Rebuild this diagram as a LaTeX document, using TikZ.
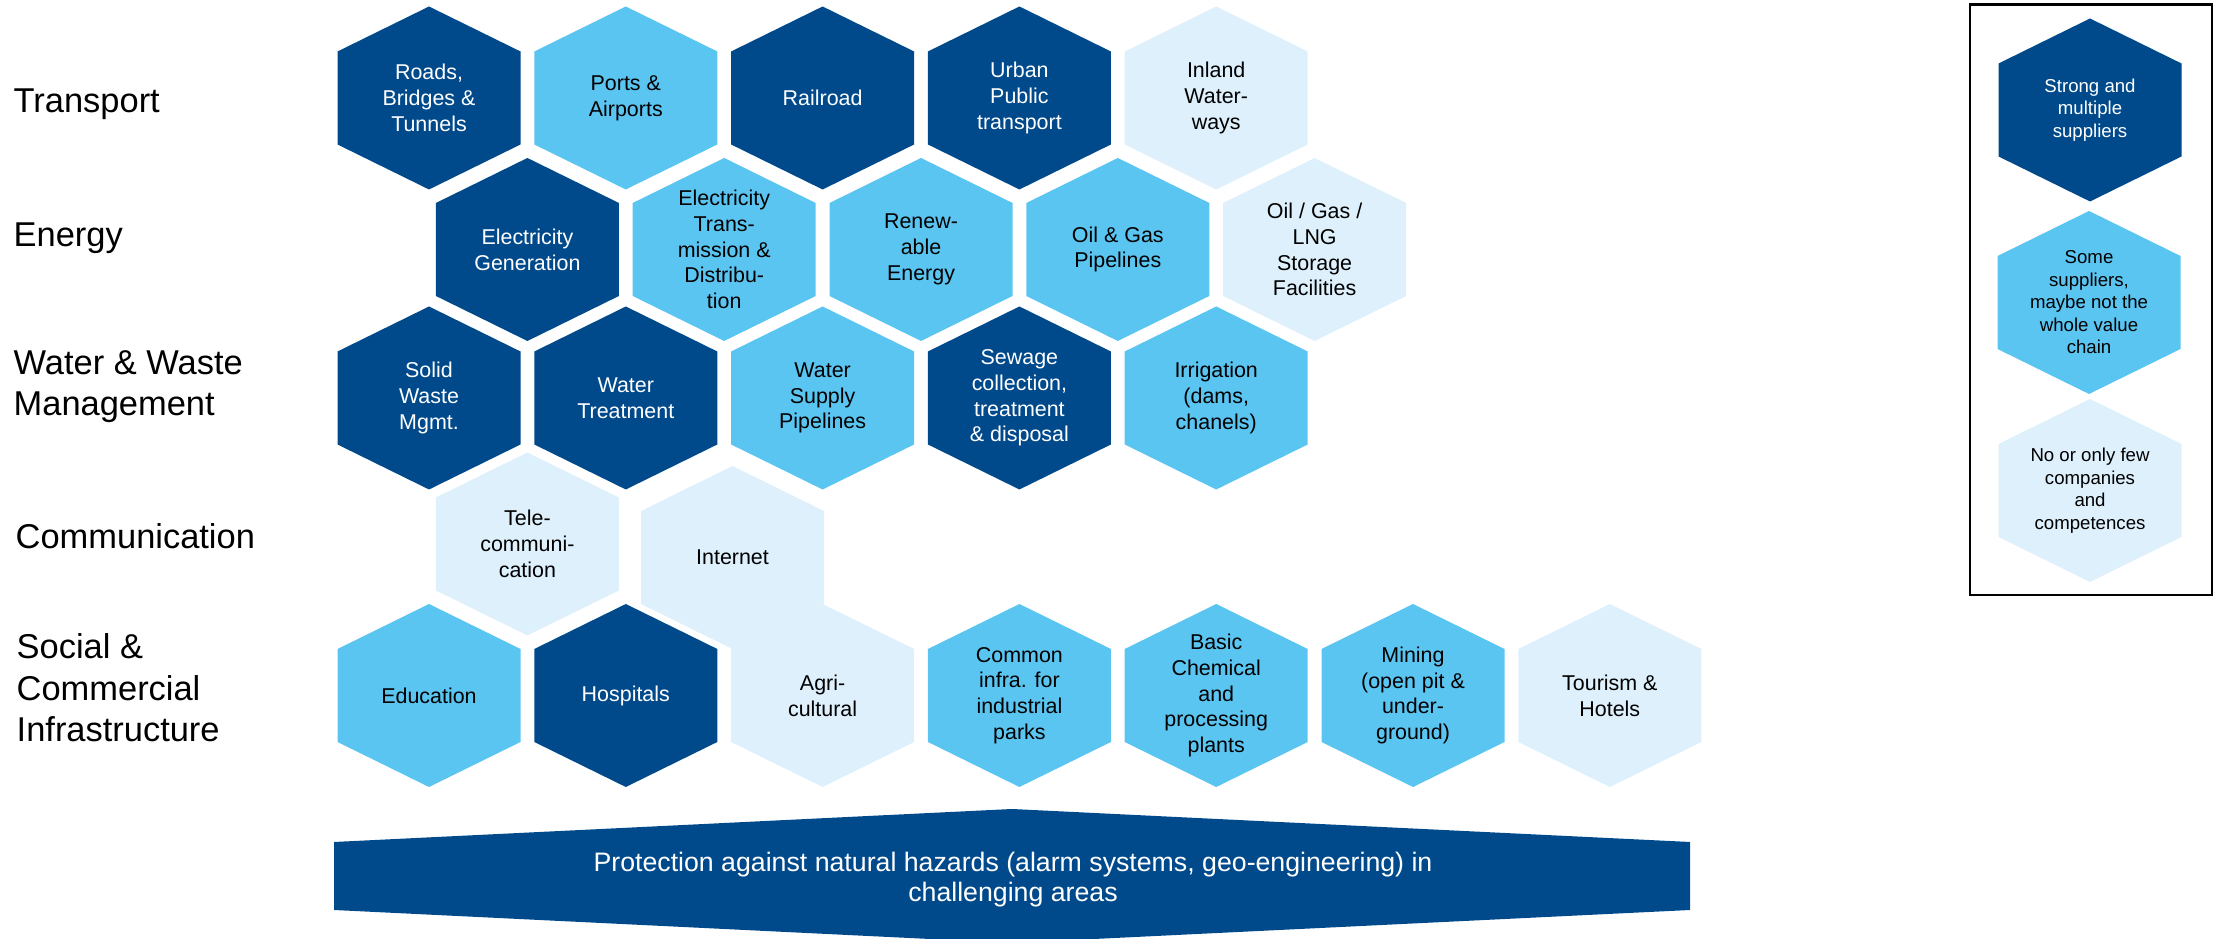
\documentclass[tikz,border=0pt]{standalone}
\usepackage{fontspec}
\setmainfont{Liberation Sans}
\definecolor{darkblue}{RGB}{0,74,140}
\definecolor{midblue}{RGB}{91,197,242}
\definecolor{paleblue}{RGB}{222,240,252}
\newcommand{\hexfont}{\fontsize{6.1}{7.35}\selectfont}
\newcommand{\rowfont}{\fontsize{9.8}{11.75}\selectfont}
\newcommand{\keyfont}{\fontsize{5.3}{6.4}\selectfont}
\newcommand{\bandfont}{\fontsize{7.6}{8.5}\selectfont}
\tikzset{
  hexcell/.style={minimum width=1.83cm, minimum height=1.83cm, inner sep=0pt, align=center, font=\hexfont,
    path picture={\fill[#1] ([yshift=-9.15mm]path picture bounding box.center) -- ++(9.15mm,4.5mm) -- ++(0,9.3mm)
      -- ++(-9.15mm,4.5mm) -- ++(-9.15mm,-4.5mm) -- ++(0,-9.3mm) -- cycle;}},
  hexstrong/.style={hexcell=darkblue, text=white},
  hexsome/.style={hexcell=midblue},
  hexfew/.style={hexcell=paleblue},
  rowlabel/.style={anchor=base west, align=left, font=\rowfont, inner sep=0pt}
}
\begin{document}
\begin{tikzpicture}
\useasboundingbox (0,0) rectangle (22.21,9.39);
% Row labels (base = last line)
\node[rowlabel] (transport) at (0.13,8.26) {Transport};
\node[rowlabel] (energy) at (0.13,6.924) {Energy};
\node[rowlabel] (water) at (0.13,5.234) {Water \& Waste\\Management};
\node[rowlabel] (comm) at (0.15,3.903) {Communication};
\node[rowlabel] (social) at (0.16,1.974) {Social \&\\Commercial\\Infrastructure};
% Transport
\foreach \n/\x/\s/\t in {roads/4.29/hexstrong/{Roads,\\Bridges \&\\Tunnels}, ports/6.258/hexsome/{Ports \&\\Airports},
  rail/8.226/hexstrong/{Railroad}, urban/10.194/hexstrong/{Urban\\Public\\transport}, inland/12.162/hexfew/{Inland\\Water-\\ways}}
  { \node[\s] (\n) at (\x,8.41) {\t}; }
% Energy
\foreach \n/\x/\s/\t in {elgen/5.274/hexstrong/{Electricity\\Generation}, eltrans/7.242/hexsome/{Electricity\\Trans-\\mission \&\\Distribu-\\tion},
  renew/9.21/hexsome/{Renew-\\able\\Energy}, pipes/11.178/hexsome/{Oil \& Gas\\Pipelines}, lng/13.146/hexfew/{Oil / Gas /\\LNG\\Storage\\Facilities}}
  { \node[\s] (\n) at (\x,6.895) {\t}; }
% Water & Waste
\foreach \n/\x/\s/\t in {solid/4.29/hexstrong/{Solid\\Waste\\Mgmt.}, treat/6.258/hexstrong/{Water\\Treatment},
  supply/8.226/hexsome/{Water\\Supply\\Pipelines}, sewage/10.194/hexstrong/{Sewage\\collection,\\treatment\\\& disposal},
  irrig/12.162/hexsome/{Irrigation\\(dams,\\chanels)}}
  { \node[\s] (\n) at (\x,5.41) {\t}; }
% Communication
\node[hexfew] (tele) at (5.274,3.95) {Tele-\\communi-\\cation};
\node[hexfew] (internet) at (7.325,3.815) {Internet};
% Social & Commercial
\foreach \n/\x/\s/\t in {edu/4.29/hexsome/{Education}, hosp/6.258/hexstrong/{Hospitals}, agri/8.226/hexfew/{Agri-\\cultural},
  parks/10.194/hexsome/{Common\\infra. for\\industrial\\parks}, chem/12.162/hexsome/{Basic\\Chemical\\and\\processing\\plants},
  mining/14.13/hexsome/{Mining\\(open pit \&\\under-\\ground)}, tourism/16.098/hexfew/{Tourism \&\\Hotels}}
  { \node[\s] (\n) at (\x,2.435) {\t}; }
% Banner
\fill[darkblue] (3.34,0.97) -- (10.12,1.30) -- (16.90,0.97) -- (16.90,0.29) -- (10.12,-0.04) -- (3.34,0.29) -- cycle;
\node[font=\bandfont, text=white, align=center] (hazards) at (10.13,0.59) {Protection against natural hazards (alarm systems, geo-engineering) in\\challenging areas};
% Legend
\draw[line width=0.7pt] (19.70,9.343) rectangle (22.12,3.44);
\node[hexstrong, font=\keyfont] (keystrong) at (20.90,8.29) {Strong and\\multiple\\suppliers};
\node[hexsome, font=\keyfont] (keysome) at (20.89,6.365) {Some\\suppliers,\\maybe not the\\whole value\\chain};
\node[hexfew, font=\keyfont] (keyfew) at (20.90,4.485) {No or only few\\companies\\and\\competences};
\end{tikzpicture}
\end{document}
